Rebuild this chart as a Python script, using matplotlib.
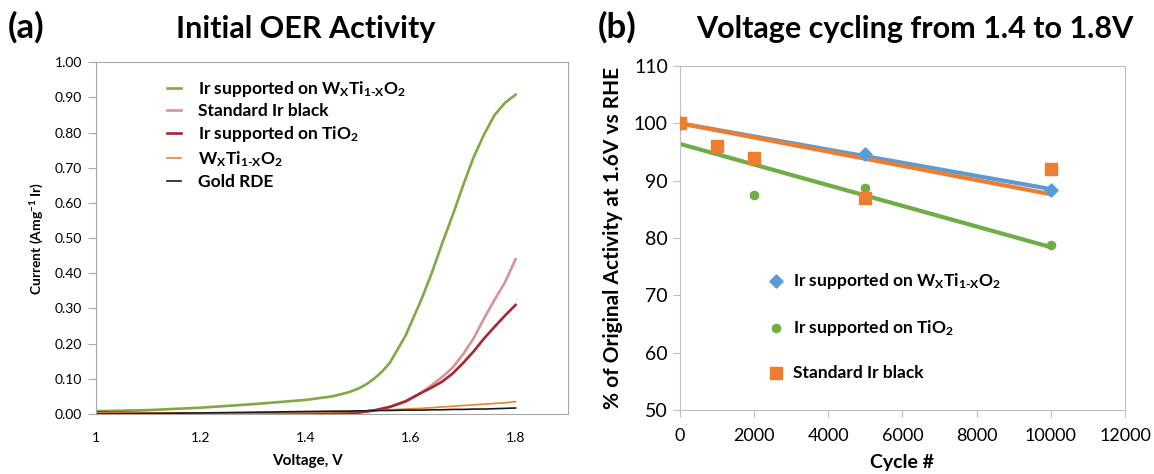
import numpy as np
import matplotlib
matplotlib.use("Agg")
from matplotlib import pyplot as plt

plt.rcParams['font.family'] = ['Lato', 'DejaVu Sans']
plt.rcParams['mathtext.fontset'] = 'custom'
plt.rcParams['mathtext.rm'] = 'Lato:bold'
plt.rcParams['mathtext.bf'] = 'Lato:bold'
plt.rcParams['mathtext.it'] = 'Lato:bold'

# (a) 初期OER活性
voltage = [1.00, 1.10, 1.20, 1.30, 1.40, 1.45, 1.48, 1.50, 1.515, 1.53, 1.545, 1.56, 1.59, 1.62, 1.64,
           1.66, 1.68, 1.70, 1.72, 1.74, 1.76, 1.78, 1.80]
cur_wtio2_ir = [0.008, 0.011, 0.018, 0.028, 0.040, 0.050, 0.061, 0.072, 0.084, 0.100, 0.120, 0.145, 0.222,
                0.324, 0.400, 0.485, 0.565, 0.650, 0.730, 0.795, 0.850, 0.885, 0.908]
cur_ir_black = [0.005, 0.002, 0.001, 0.001, 0.001, 0.002, 0.003, 0.004, 0.007, 0.010, 0.015, 0.020, 0.035,
                0.060, 0.082, 0.105, 0.132, 0.170, 0.215, 0.272, 0.325, 0.375, 0.440]
cur_tio2_ir = [0.005, 0.002, 0.001, 0.001, 0.001, 0.002, 0.003, 0.004, 0.007, 0.010, 0.015, 0.020, 0.036,
               0.060, 0.075, 0.092, 0.115, 0.145, 0.178, 0.215, 0.248, 0.280, 0.310]
cur_wtio2 = [0.003, 0.002, 0.002, 0.003, 0.004, 0.006, 0.007, 0.008, 0.009, 0.010, 0.011, 0.012, 0.014,
             0.016, 0.018, 0.020, 0.022, 0.024, 0.026, 0.028, 0.030, 0.032, 0.035]
cur_gold = [0.000, 0.001, 0.003, 0.005, 0.007, 0.008, 0.008, 0.009, 0.009, 0.010, 0.010, 0.010, 0.011,
            0.011, 0.012, 0.012, 0.013, 0.013, 0.014, 0.014, 0.015, 0.016, 0.017]

# (b) 電圧サイクル
cyc_wtio2 = [0, 5000, 10000]
act_wtio2 = [100, 94.7, 88.3]
cyc_tio2 = [0, 2000, 5000, 10000]
act_tio2 = [100, 87.5, 88.7, 78.8]
cyc_black = [0, 1000, 2000, 5000, 10000]
act_black = [100, 96.0, 94.0, 87.0, 92.0]

sub_wtio2 = r"W$_{X}$Ti$_{1\text{-}X}$O$_{2}$"
lab_wtio2_ir = "Ir supported on " + sub_wtio2
lab_tio2_ir = r"Ir supported on TiO$_{2}$"
lab_black = "Standard Ir black"

fig = plt.figure(figsize=(11.54, 4.74), dpi=100)
ax1 = fig.add_axes([0.0832, 0.1266, 0.409, 0.742])
ax2 = fig.add_axes([0.589, 0.135, 0.386, 0.726])

########################################
# (a)
ax1.plot(voltage, cur_wtio2_ir, color='#82A845', lw=1.9, label=lab_wtio2_ir)
ax1.plot(voltage, cur_ir_black, color='#D8929D', lw=1.9, label=lab_black)
ax1.plot(voltage, cur_tio2_ir, color='#A3282F', lw=1.9, label=lab_tio2_ir)
ax1.plot(voltage, cur_wtio2, color='#E8842E', lw=1.2, label=sub_wtio2)
ax1.plot(voltage, cur_gold, color='#1a1a1a', lw=1.2, label="Gold RDE")
ax1.set_xlim(1.0, 1.9)
ax1.set_ylim(0, 1.0)
ax1.set_xticks([1.0, 1.2, 1.4, 1.6, 1.8])
ax1.set_xticklabels(["1", "1.2", "1.4", "1.6", "1.8"])
ax1.set_yticks(np.arange(0, 1.01, 0.1))
ax1.set_yticklabels(["%.2f" % v for v in np.arange(0, 1.01, 0.1)])
ax1.tick_params(axis='x', length=0, labelsize=10, pad=13)
ax1.tick_params(axis='y', length=6, color='#AAAAAA', labelsize=10, pad=4)
for s in ax1.spines.values():
    s.set_color('#A6A6A6')
ax1.set_xlabel("Voltage, V", fontsize=11, fontweight='bold')
ax1.xaxis.set_label_coords(0.449, -0.115)
ax1.set_ylabel(r"Current (Amg$^{-1}$ Ir)", fontsize=10, fontweight='bold', labelpad=6)
ax1.legend(loc='upper left', bbox_to_anchor=(0.117, 0.998), frameon=False,
           handlelength=0.8, handletextpad=1.0, labelspacing=0.28,
           prop={'size': 12.5, 'weight': 'bold'})

########################################
# (b)
def fit_through_100(x, y):
    x = np.array(x, float); y = np.array(y, float)
    return np.sum(x * (y - 100)) / np.sum(x * x)

xs = np.array([0, 10000])
k = fit_through_100(cyc_wtio2, act_wtio2)
ax2.plot(xs, 100 + k * xs, color='#5B9BD5', lw=3, zorder=2)
p = np.polyfit(cyc_tio2, act_tio2, 1)
ax2.plot(xs, np.polyval(p, xs), color='#70AD47', lw=3, zorder=2)
k = fit_through_100(cyc_black, act_black)
ax2.plot(xs, 100 + k * xs, color='#ED7D31', lw=3, zorder=3)

ax2.scatter(cyc_wtio2, act_wtio2, marker='D', s=45, color='#5B9BD5', zorder=4, label=lab_wtio2_ir)
ax2.scatter(cyc_tio2, act_tio2, marker='o', s=35, color='#70AD47', zorder=4, label=lab_tio2_ir)
ax2.scatter(cyc_black, act_black, marker='s', s=80, color='#ED7D31', zorder=5, label=lab_black)

ax2.set_xlim(0, 12000)
ax2.set_ylim(50, 110)
ax2.set_xticks(np.arange(0, 12001, 2000))
ax2.set_yticks(np.arange(50, 111, 10))
ax2.tick_params(axis='both', length=5, color='#BFBFBF')
ax2.tick_params(axis='x', pad=8, labelsize=13)
ax2.tick_params(axis='y', labelsize=14)
for s in ax2.spines.values():
    s.set_color('#BFBFBF')
ax2.set_xlabel("Cycle #", fontsize=14, fontweight='bold', labelpad=7)
ax2.set_ylabel("% of Original Activity at 1.6V vs RHE", fontsize=15, fontweight='bold', labelpad=8)
ax2.legend(loc='upper left', bbox_to_anchor=(0.161, 0.45), frameon=False,
           handlelength=1.0, handletextpad=0.5, labelspacing=1.55, scatterpoints=1,
           prop={'size': 12.5, 'weight': 'bold'})

fig.text(0.007, 0.92, "(a)", fontsize=25, fontweight='bold', va='baseline')
fig.text(0.265, 0.92, "Initial OER Activity", fontsize=22, fontweight='bold', ha='center', va='baseline')
fig.text(0.518, 0.92, "(b)", fontsize=25, fontweight='bold', va='baseline')
fig.text(0.793, 0.92, "Voltage cycling from 1.4 to 1.8V", fontsize=22, fontweight='bold', ha='center', va='baseline')

plt.savefig("out.png", dpi=100)
